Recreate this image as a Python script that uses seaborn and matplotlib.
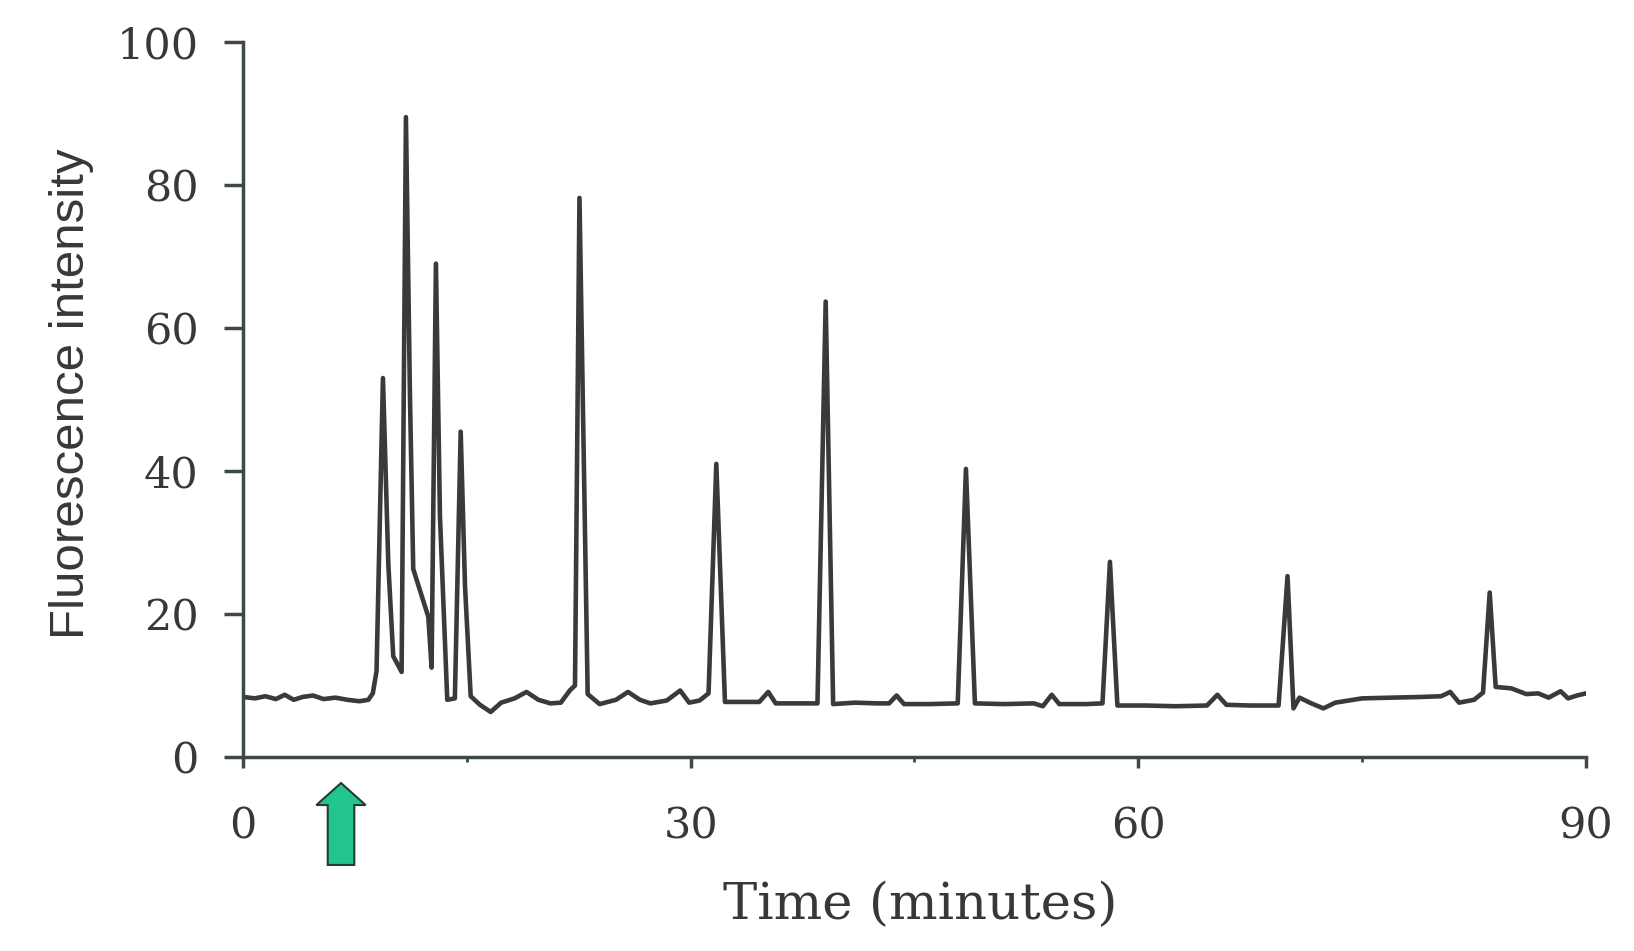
import matplotlib
matplotlib.use("Agg")
import matplotlib.pyplot as plt
from matplotlib.patches import FancyArrow
from matplotlib.ticker import MultipleLocator
import pandas as pd
import seaborn as sns

# trace (time in minutes, fluorescence intensity)
time_min = [
    0.0, 0.8, 1.5, 2.2, 2.8, 3.4, 4.0, 4.7, 5.4, 6.2, 7.0, 7.8, 8.4, 8.7, 8.95,
    9.38, 9.74, 10.07, 10.63, 10.92, 11.19, 11.41, 12.42, 12.64, 12.93, 13.2,
    13.69, 14.2, 14.59, 14.88, 15.26, 15.88, 16.6, 17.3, 18.2, 19.0, 19.8, 20.6,
    21.3, 21.9, 22.25, 22.55, 23.1, 23.9, 25.0, 25.8, 26.6, 27.3, 28.4, 29.3,
    29.9, 30.6, 31.2, 31.72, 32.3, 33.5, 34.6, 35.2, 35.7, 37.0, 38.5, 39.05,
    39.55, 41.0, 42.5, 43.3, 43.8, 44.3, 46.0, 47.9, 48.45, 49.05, 51.0, 53.0,
    53.6, 54.2, 54.7, 56.5, 57.6, 58.1, 58.6, 60.5, 62.5, 64.6, 65.3, 65.9,
    67.5, 69.4, 70.0, 70.4, 70.8, 71.6, 72.4, 73.2, 75.0, 77.0, 79.0, 80.3,
    80.9, 81.5, 82.5, 83.1, 83.55, 83.95, 85.0, 86.0, 86.8, 87.5, 88.3, 88.8,
    89.4, 90.0,
]
intensity = [
    8.4, 8.2, 8.5, 8.1, 8.7, 8.0, 8.4, 8.6, 8.1, 8.3, 8.0, 7.8, 8.0, 8.9, 12.0,
    53.0, 27.0, 14.1, 11.9, 89.5, 50.5, 26.3, 19.6, 12.5, 69.0, 33.7,
    8.0, 8.2, 45.5, 23.9, 8.5, 7.3, 6.3, 7.6, 8.2, 9.1, 8.0, 7.5,
    7.6, 9.3, 10.0, 78.2, 8.8, 7.4, 8.0, 9.1, 8.0, 7.5, 7.9, 9.3,
    7.6, 7.9, 8.9, 41.0, 7.7, 7.7, 7.7, 9.1, 7.5, 7.5, 7.5, 63.7,
    7.4, 7.6, 7.5, 7.5, 8.6, 7.4, 7.4, 7.5, 40.3, 7.5, 7.4, 7.5,
    7.1, 8.7, 7.4, 7.4, 7.5, 27.3, 7.2, 7.2, 7.1, 7.2, 8.7, 7.3,
    7.2, 7.2, 25.3, 6.8, 8.3, 7.5, 6.8, 7.6, 8.2, 8.3, 8.4, 8.5,
    9.1, 7.6, 8.0, 9.0, 23.0, 9.8, 9.6, 8.8, 8.9, 8.3, 9.2, 8.2,
    8.6, 8.9,
]
x_ticks = [0, 30, 60, 90]
y_ticks = [0, 20, 40, 60, 80, 100]
injection_time = 6.57  # green arrow

df = pd.DataFrame({"time": time_min, "intensity": intensity})

sns.set_style("ticks")
plt.rcParams["font.family"] = ["DejaVu Serif"]

ink = "#383b37"
axis_col = "#3c4a42"
text_col = "#383836"

fig = plt.figure(figsize=(16.34, 9.51), dpi=100)
ax = fig.add_axes([0.1487, 0.204, 0.8219, 0.7518])

sns.lineplot(data=df, x="time", y="intensity", ax=ax, color=ink,
             linewidth=3.3, estimator=None, sort=False)

ax.set_xlim(0, 90)
ax.set_ylim(0, 100)
ax.set_xticks(x_ticks)
ax.set_yticks(y_ticks)
ax.xaxis.set_minor_locator(MultipleLocator(15))
ax.set_xlabel("")
ax.set_ylabel("")

sns.despine(ax=ax)
for side in ["left", "bottom"]:
    ax.spines[side].set_color(axis_col)
    ax.spines[side].set_linewidth(2.5)

ax.tick_params(axis="x", which="major", direction="out", length=8, width=2.5,
               color=axis_col, pad=27, labelsize=31, labelcolor=text_col)
ax.tick_params(axis="x", which="minor", direction="out", length=3.5, width=2,
               color=axis_col)
ax.tick_params(axis="y", direction="out", length=14, width=2.5,
               color=axis_col, pad=18, labelsize=31, labelcolor=text_col)

fig.text(0.563, 0.034, "Time (minutes)", ha="center", va="baseline",
         fontsize=37, color=text_col, family=["DejaVu Serif"])
fig.text(0.0435, 0.5857, "Fluorescence intensity", rotation=90,
         ha="center", va="center", fontsize=35.5, color=text_col,
         family=["Liberation Sans", "DejaVu Sans"])

arrow = FancyArrow(injection_time, -15.1, 0, 11.46, width=1.78,
                   head_width=3.3, head_length=3.08,
                   length_includes_head=True, facecolor="#22c48f",
                   edgecolor="#1f3d33", linewidth=1.5, clip_on=False)
ax.add_patch(arrow)

fig.savefig("out.png", dpi=100, facecolor="white")
